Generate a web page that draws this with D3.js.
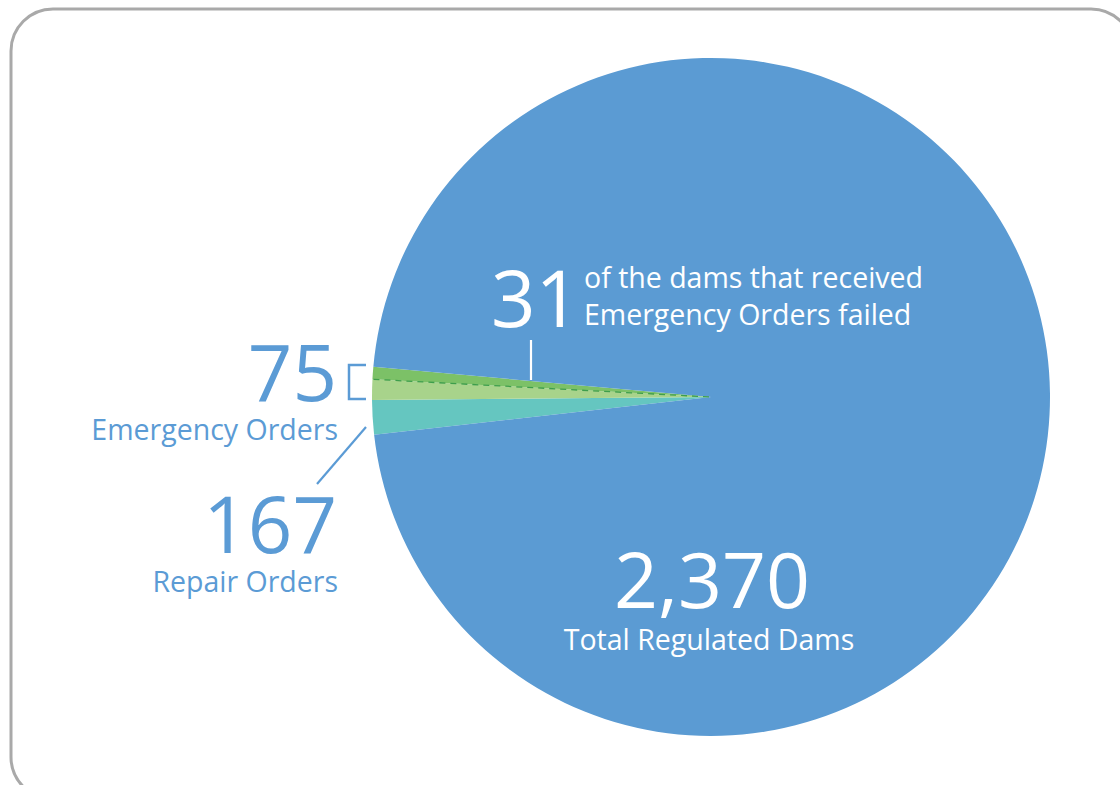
<!DOCTYPE html>
<html>
<head>
<meta charset="utf-8">
<script src="https://cdn.jsdelivr.net/npm/d3@7"></script>
<style>
  html, body { margin: 0; padding: 0; background: #fff; overflow: hidden; }
  svg text { font-family: "Open Sans", "Noto Sans", sans-serif; }
</style>
</head>
<body>
<div id="chart"></div>
<script>
// counts shown in the labels
const totalDams = 2370;
const orderTypes = ["Emergency Orders", "Repair Orders"];
const orderCounts = [75, 167];
const failedCount = 31;

// slices as drawn in the picture (sweep in degrees, not to scale with the counts)
const sliceNames = ["Repair Orders", "Emergency Orders", "Emergency Orders failed", "Other Regulated Dams"];
const sliceDegrees = [5.9, 3.5, 2.1, 348.5];

const width = 1120;
const height = 785;
const cx = 711, cy = 397, radius = 339;
const blueText = "#5b9bd5";

const svg = d3.select("#chart")
    .append("svg")
    .attr("width", width)
    .attr("height", height);

// Frame
svg.append("rect")
    .attr("x", 11)
    .attr("y", 9)
    .attr("width", 1122)
    .attr("height", 790)
    .attr("rx", 42)
    .attr("fill", "none")
    .attr("stroke", "#a9a9a9")
    .attr("stroke-width", 3);

const color = d3.scaleOrdinal()
    .domain(sliceNames)
    .range(["#65c6c0", "#a8d38b", "#7cc167", "#5b9bd3"]);

const rad = deg => deg * Math.PI / 180;
const start = rad(270 - 6.4);

const pie = d3.pie()
    .sort(null)
    .value(d => d.deg)
    .startAngle(start)
    .endAngle(start + 2 * Math.PI);

const arc = d3.arc().innerRadius(0).outerRadius(radius);

const slices = pie(sliceNames.map((name, i) => ({ name, deg: sliceDegrees[i] })));

const g = svg.append("g")
    .attr("transform", `translate(${cx}, ${cy})`);

g.selectAll("path")
    .data(slices)
    .enter()
    .append("path")
    .attr("d", arc)
    .attr("fill", d => color(d.data.name));

// dashed split between failed and other emergency orders
const split = slices[1].endAngle;
const edge = d3.pointRadial(split, radius - 1);
g.append("line")
    .attr("x1", edge[0])
    .attr("y1", edge[1])
    .attr("x2", 0)
    .attr("y2", 0)
    .attr("stroke", "#3e9e4c")
    .attr("stroke-width", 1.3)
    .attr("stroke-dasharray", "6,5");

const fmt = d3.format(",");
const small = 28.5;

// Total
svg.append("text")
    .attr("x", 712).attr("y", 608)
    .attr("text-anchor", "middle")
    .attr("font-size", 77)
    .attr("fill", "#fff")
    .text(fmt(totalDams));
svg.append("text")
    .attr("x", 709).attr("y", 650)
    .attr("text-anchor", "middle")
    .attr("font-size", small)
    .attr("fill", "#fff")
    .text("Total Regulated Dams");

// Failed
svg.append("text")
    .attr("x", 491).attr("y", 327)
    .attr("font-size", 78)
    .attr("fill", "#fff")
    .text(failedCount);
svg.append("text")
    .attr("x", 584).attr("y", 288)
    .attr("font-size", small)
    .attr("fill", "#fff")
    .text("of the dams that received");
svg.append("text")
    .attr("x", 584).attr("y", 325)
    .attr("font-size", small)
    .attr("fill", "#fff")
    .text("Emergency Orders failed");
svg.append("line")
    .attr("x1", 531).attr("y1", 340)
    .attr("x2", 531).attr("y2", 380)
    .attr("stroke", "#fff")
    .attr("stroke-width", 2.2);

// Emergency orders
svg.append("text")
    .attr("x", 337).attr("y", 401)
    .attr("text-anchor", "end")
    .attr("font-size", 78)
    .attr("fill", blueText)
    .text(orderCounts[0]);
svg.append("text")
    .attr("x", 338).attr("y", 440)
    .attr("text-anchor", "end")
    .attr("font-size", small)
    .attr("fill", blueText)
    .text(orderTypes[0]);
svg.append("path")
    .attr("d", "M366,365 H349 V399 H366")
    .attr("fill", "none")
    .attr("stroke", blueText)
    .attr("stroke-width", 2.5);

// Repair orders
svg.append("text")
    .attr("x", 337).attr("y", 553)
    .attr("text-anchor", "end")
    .attr("font-size", 78)
    .attr("fill", blueText)
    .text(orderCounts[1]);
svg.append("text")
    .attr("x", 338).attr("y", 592)
    .attr("text-anchor", "end")
    .attr("font-size", small)
    .attr("fill", blueText)
    .text(orderTypes[1]);
svg.append("line")
    .attr("x1", 366).attr("y1", 427)
    .attr("x2", 317).attr("y2", 484)
    .attr("stroke", blueText)
    .attr("stroke-width", 2.2);
</script>
</body>
</html>
